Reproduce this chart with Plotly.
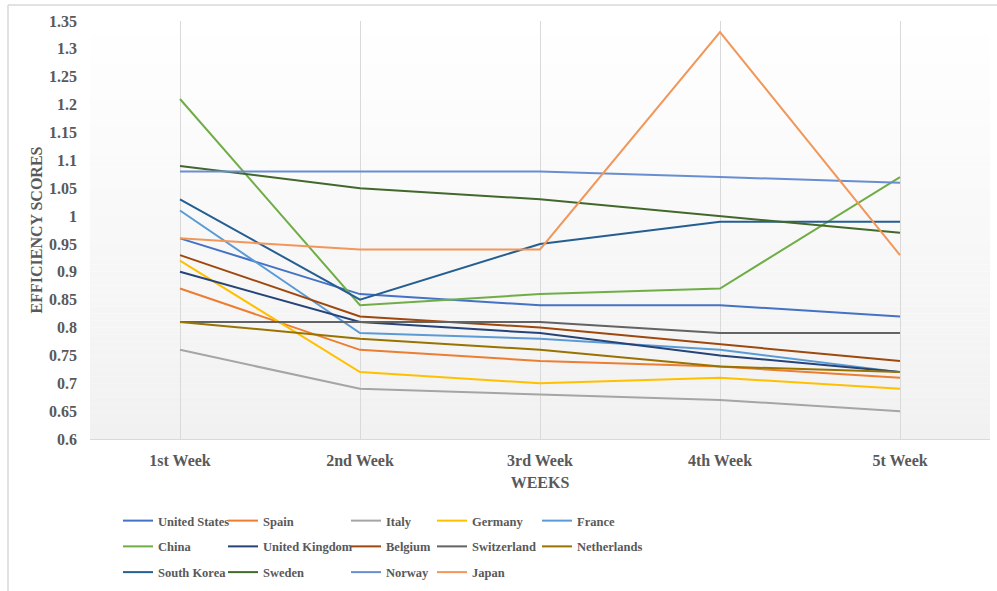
import plotly.graph_objects as go

# Categories and weekly efficiency scores per country
weeks = ["1st Week", "2nd Week", "3rd Week", "4th Week", "5t Week"]

united_states = [0.96, 0.86, 0.84, 0.84, 0.82]
spain = [0.87, 0.76, 0.74, 0.73, 0.71]
italy = [0.76, 0.69, 0.68, 0.67, 0.65]
germany = [0.92, 0.72, 0.70, 0.71, 0.69]
france = [1.01, 0.79, 0.78, 0.76, 0.72]
china = [1.21, 0.84, 0.86, 0.87, 1.07]
united_kingdom = [0.90, 0.81, 0.79, 0.75, 0.72]
belgium = [0.93, 0.82, 0.80, 0.77, 0.74]
switzerland = [0.81, 0.81, 0.81, 0.79, 0.79]
netherlands = [0.81, 0.78, 0.76, 0.73, 0.72]
south_korea = [1.03, 0.85, 0.95, 0.99, 0.99]
sweden = [1.09, 1.05, 1.03, 1.00, 0.97]
norway = [1.08, 1.08, 1.08, 1.07, 1.06]
japan = [0.96, 0.94, 0.94, 1.33, 0.93]

y_tick_values = [0.6, 0.65, 0.7, 0.75, 0.8, 0.85, 0.9, 0.95, 1.0,
                 1.05, 1.1, 1.15, 1.2, 1.25, 1.3, 1.35]
y_tick_labels = ["0.6", "0.65", "0.7", "0.75", "0.8", "0.85", "0.9", "0.95", "1",
                 "1.05", "1.1", "1.15", "1.2", "1.25", "1.3", "1.35"]

# (name, values, colour, legend column)
series = [
    ("United States", united_states, "#4472C4", "legend"),
    ("Spain", spain, "#ED7D31", "legend2"),
    ("Italy", italy, "#A5A5A5", "legend3"),
    ("Germany", germany, "#FFC000", "legend4"),
    ("France", france, "#5B9BD5", "legend5"),
    ("China", china, "#70AD47", "legend"),
    ("United Kingdom", united_kingdom, "#264478", "legend2"),
    ("Belgium", belgium, "#9E480E", "legend3"),
    ("Switzerland", switzerland, "#636363", "legend4"),
    ("Netherlands", netherlands, "#997300", "legend5"),
    ("South Korea", south_korea, "#255E91", "legend"),
    ("Sweden", sweden, "#43682B", "legend2"),
    ("Norway", norway, "#698ED0", "legend3"),
    ("Japan", japan, "#F1975A", "legend4"),
]

TEXT = "#595959"
FONT = "Liberation Serif"
W, H = 997, 591
ML, MR, MT, MB = 90, 7, 21, 152
PW, PH = W - ML - MR, H - MT - MB


def px_to_paper_x(px):
    return (px - ML) / PW


def px_to_paper_y(py):
    return (H - MB - py) / PH


fig = go.Figure()
for name, vals, color, leg in series:
    fig.add_trace(go.Scatter(
        x=weeks, y=vals, name=name, mode="lines",
        line=dict(color=color, width=2),
        legend=leg, legendgroup=name,
    ))

# Soft vertical gradient behind the plot area
shapes = []
bands = 60
for i in range(bands):
    t = (i + 0.5) / bands  # 0 at bottom, 1 at top
    g = round(241 + (255 - 241) * t)
    shapes.append(dict(
        type="rect", xref="x domain", yref="y domain",
        x0=0, x1=1, y0=i / bands, y1=(i + 1) / bands,
        fillcolor=f"rgb({g},{g},{g})", line=dict(width=0), layer="below",
    ))

# Chart frame (top and left edges)
shapes.append(dict(type="line", xref="paper", yref="paper",
                   x0=px_to_paper_x(8), x1=px_to_paper_x(W + 5),
                   y0=px_to_paper_y(5), y1=px_to_paper_y(5),
                   line=dict(color="#D9D9D9", width=1.5)))
shapes.append(dict(type="line", xref="paper", yref="paper",
                   x0=px_to_paper_x(8), x1=px_to_paper_x(8),
                   y0=px_to_paper_y(5), y1=px_to_paper_y(H + 5),
                   line=dict(color="#D9D9D9", width=1.5)))

legend_font = dict(family=FONT, size=12.5, color=TEXT, weight="bold")
legend_top = px_to_paper_y(506)
legend_text_x = [158, 263, 386, 472, 577]
legend_common = dict(orientation="v", yanchor="top", xanchor="left",
                     y=legend_top, font=legend_font, bgcolor="rgba(0,0,0,0)",
                     tracegroupgap=6.5, itemclick=False, itemdoubleclick=False)

layout_legends = {}
for key, tx in zip(["legend", "legend2", "legend3", "legend4", "legend5"], legend_text_x):
    layout_legends[key] = dict(x=px_to_paper_x(tx - 40), **legend_common)

fig.update_layout(
    width=W, height=H,
    margin=dict(l=ML, r=MR, t=MT, b=MB, autoexpand=False),
    paper_bgcolor="white",
    plot_bgcolor="white",
    shapes=shapes,
    font=dict(family=FONT, color=TEXT),
    xaxis=dict(
        range=[-0.5, 4.5],
        showgrid=True, gridcolor="#D9D9D9", gridwidth=1,
        showline=True, linecolor="#D9D9D9", linewidth=1,
        ticks="", ticklabelstandoff=7,
        tickfont=dict(family=FONT, size=16, color=TEXT, weight="bold"),
        title=dict(text="WEEKS", standoff=8,
                   font=dict(family=FONT, size=16, color=TEXT, weight="bold")),
        zeroline=False,
    ),
    yaxis=dict(
        range=[0.6, 1.35],
        tickvals=y_tick_values, ticktext=y_tick_labels,
        showgrid=False, showline=False, zeroline=False,
        ticks="", ticklabelstandoff=12,
        tickfont=dict(family=FONT, size=16, color=TEXT, weight="bold"),
        title=dict(text="EFFICIENCY SCORES", standoff=2,
                   font=dict(family=FONT, size=16, color=TEXT, weight="bold")),
    ),
    **layout_legends,
)

fig.write_html("out.html")
